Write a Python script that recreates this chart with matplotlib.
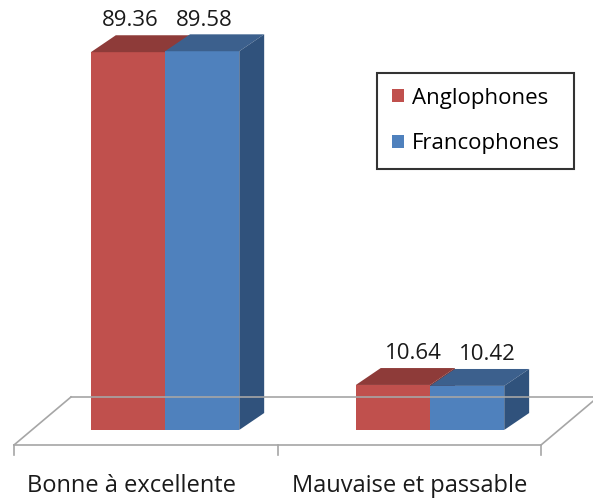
import matplotlib.pyplot as plt
from matplotlib.patches import Patch

plt.rcParams['font.family'] = ['Open Sans', 'DejaVu Sans']

categories = ['Bonne à excellente', 'Mauvaise et passable']
series_names = ['Anglophones', 'Francophones']
anglophones = [89.36, 10.64]
francophones = [89.58, 10.42]

# couleurs (face avant, dessus, côté)
colors = {
    'Anglophones': ('#C0504D', '#8E3B39', '#7A3230'),
    'Francophones': ('#4F81BD', '#3C608D', '#30527C'),
}

fig = plt.figure(figsize=(5.93, 4.98), dpi=100)
ax = fig.add_axes([0, 0, 1, 1])
ax.set_xlim(-0.623, 1.615)
ax.set_ylim(-16.1, 101.7)
ax.axis('off')

w = 0.28      # largeur d'une barre
dx = 0.094    # profondeur (x)
dy = 4.0      # profondeur (y)


def draw_box(x0, h, front, top, side):
    ax.fill([x0, x0 + w, x0 + w, x0], [0, 0, h, h], color=front, lw=0)
    ax.fill([x0, x0 + w, x0 + w + dx, x0 + dx], [h, h, h + dy, h + dy], color=top, lw=0)
    ax.fill([x0 + w, x0 + w + dx, x0 + w + dx, x0 + w], [0, dy, h + dy, h], color=side, lw=0)


# plancher
yf, yb = -3.55, 7.8
xl, xr, fdx = -0.570, 1.419, 0.215
floor_col = '#A6A6A6'
ax.plot([xl + fdx, 1.7], [yb, yb], color=floor_col, lw=1.2)
ax.plot([xl, xr], [yf, yf], color=floor_col, lw=1.2)
ax.plot([xl, xl + fdx], [yf, yb], color=floor_col, lw=1.2)
ax.plot([xr, xr + fdx], [yf, yb], color=floor_col, lw=1.2)
for xt in [xl, (xl + xr) / 2, xr]:
    ax.plot([xt, xt], [yf, yf - 2.4], color=floor_col, lw=1.2)

# barres
for i in range(len(categories)):
    for j, (name, vals) in enumerate(zip(series_names, [anglophones, francophones])):
        x0 = i - w + j * w
        fc, tc, sc = colors[name]
        draw_box(x0, vals[i], fc, tc, sc)
        shift = (2 + 18 * i) / 265
        ax.text(x0 + w / 2 + shift, vals[i] + dy + 0.9, f'{vals[i]:.2f}',
                ha='center', va='bottom', fontsize=16, color='#1a1a1a')

# étiquettes des catégories
for i, cat in enumerate(categories):
    ax.text(i - 0.128 + 0.05 * i, -13.3, cat, ha='center', va='center',
            fontsize=17, color='#1a1a1a')

handles = [Patch(facecolor=colors[n][0], edgecolor='none', label=n) for n in series_names]
leg = ax.legend(handles=handles, loc='upper left', bbox_to_anchor=(0.636, 0.853),
                bbox_transform=fig.transFigure, borderaxespad=0, fontsize=16,
                handlelength=0.55, handleheight=0.55, handletextpad=0.35,
                labelspacing=1.1, borderpad=0.65, fancybox=False, frameon=True)
leg.get_frame().set_edgecolor('black')
leg.get_frame().set_linewidth(1.5)

fig.savefig('out.png', dpi=100)
